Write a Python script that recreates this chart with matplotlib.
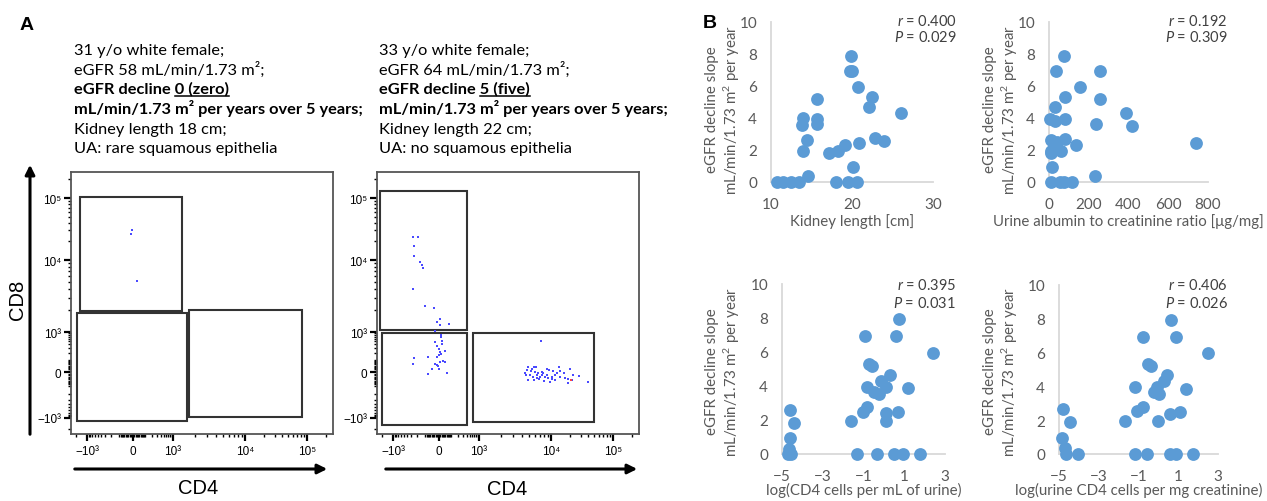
import numpy as np
import matplotlib
matplotlib.use("Agg")
import matplotlib.pyplot as plt
from matplotlib.patches import Rectangle, FancyArrowPatch
from matplotlib.lines import Line2D

W, H = 1267, 502

plt.rcParams['font.family'] = ['Lato', 'DejaVu Sans']
plt.rcParams['mathtext.fontset'] = 'custom'
plt.rcParams['mathtext.rm'] = 'Lato'
plt.rcParams['mathtext.it'] = 'Lato:italic'

# ---------------- panel A: patient notes ----------------
notes_left = ["31 y/o white female;",
              "eGFR 58 mL/min/1.73 m²;",
              "eGFR decline 0 (zero)",
              "mL/min/1.73 m² per years over 5 years;",
              "Kidney length 18 cm;",
              "UA: rare squamous epithelia"]
notes_right = ["33 y/o white female;",
               "eGFR 64 mL/min/1.73 m²;",
               "eGFR decline 5 (five)",
               "mL/min/1.73 m² per years over 5 years;",
               "Kidney length 22 cm;",
               "UA: no squamous epithelia"]
bold_rows = [2, 3]
underline_left = "0 (zero)"
underline_right = "5 (five)"

# ---------------- panel A: flow events (CD4, CD8) ----------------
p1_cd4 = [-5, -10, 30]
p1_cd8 = [30400, 26000, 5100]

p2_cd4 = [-269, -187, -245, -240, -159, -130, -127, -260, -105, -33,
          5, -10, 5, 80, -28, 13, 15, 20, -26, 22,
          -11, -2, 45, 8, 15, 0, -15, -75, -245, -260,
          28, 5, 45, -26, -5, -15, -50, 66, -80, 2,
          7280, 4850, 5400, 5800, 6200, 4600, 5240, 6000, 6700, 7420,
          7700, 8700, 9430, 10900, 13600, 13900, 16200, 20200, 4500, 5130,
          5670, 6470, 7060, 8280, 9150, 10300, 11600, 13900, 16800, 19000,
          23000, 28700, 4850, 5800, 6900, 8050, 9620, 11600, 18600, 21600,
          39000, 8700, 12300, 4370, 6320, 7420, 10200]
p2_cd8 = [23400, 23400, 16700, 11700, 9500, 8600, 7700, 3950, 2280, 2140,
          1530, 1370, 1250, 1300, 1040, 820, 670, 520, 480, 400,
          355, 275, 237, 220, 180, 158, 142, 142, 130, 64,
          96, 85, 85, 64, 49, 55, 23, -7, -13, 23,
          520, 37, 24, 37, 39, 17, 5, 0, -7, 0,
          -7, 21, 17, 5, 37, 5, -7, 21, -23, -18,
          -30, -23, -36, -30, -42, -30, -18, -30, -42, -47,
          -18, -25, -54, -54, -49, -62, -68, -54, -82, -56,
          -73, -18, -7, -7, -42, -18, -47]
p2_red_cd4 = [21000]
p2_red_cd8 = [-54]

# gates: (cd4 low, cd4 high, cd8 low, cd8 high)
gates_p1 = [(-1560, 1340, 1960, 103000),
            (-1880, 1570, -1210, 1850),
            (1670, 82500, -940, 2020)]
gates_p2 = [(-2260, 400, 1070, 129000),
            (-2000, 400, -1560, 930),
            (640, 49100, -1290, 930)]

flow_ticks = [-1e3, 0, 1e3, 1e4, 1e5]
flow_ticklabels = ['−10³', '0', '10³', '10⁴', '10⁵']
flow_minor = ([-2000] + list(range(-900, 0, 100)) + list(range(-90, 0, 10))
              + list(range(10, 100, 10)) + list(range(100, 1000, 100))
              + list(range(2000, 10000, 1000)) + list(range(20000, 100000, 10000))
              + [200000])

# ---------------- panel B: clinical correlations ----------------
kidney_len = [10.8, 11.5, 12.5, 13.4, 13.9, 13.8, 13.9, 14.5, 14.6, 15.7,
              15.7, 15.7, 17.2, 18.3, 18.0, 19.1, 19.5, 19.9, 19.7, 20.0,
              20.1, 20.6, 20.7, 20.9, 22.1, 22.5, 22.9, 23.9, 26.0]
slope_kl = [0, 0, 0, 0, 4.0, 3.55, 1.93, 2.6, 0.37, 5.2,
            3.95, 3.65, 1.83, 1.93, 0, 2.34, 0, 7.9, 6.95, 6.95,
            0.93, 0, 5.95, 2.43, 4.67, 5.3, 2.74, 2.55, 4.32]

uacr = [8, 56, 76, 117, 233, 14, 8, 10, 61, 10,
        39, 81, 134, 5, 30, 81, 238, 389, 416, 29,
        81, 257, 157, 36, 255, 73, 741]
slope_ua = [0, 0, 0, 0, 0.35, 0.93, 1.83, 1.93, 1.93, 2.6,
            2.5, 2.7, 2.34, 3.95, 3.84, 3.95, 3.63, 4.32, 3.53, 4.67,
            5.3, 5.2, 5.95, 6.95, 6.95, 7.9, 2.43]

cd4_ml = [-4.69, -4.56, -4.64, -4.59, -4.40, -4.59, -1.31, -0.33, 0.51, 0.92,
          1.75, -1.63, -1.02, -0.85, -0.82, -0.5, -0.25, 0.12, -0.14, 0.28,
          -0.74, -0.58, -0.93, 0.61, 0.72, 2.43, 1.18, 0.12, 0.12, 0.69]
slope_c4 = [0, 0, 0.29, 0.92, 1.82, 2.6, 0, 0, 0, 0,
            0, 1.92, 2.5, 2.74, 3.92, 3.67, 3.53, 3.92, 4.31, 4.67,
            5.29, 5.2, 6.92, 6.92, 7.94, 5.92, 3.86, 2.41, 1.92, 2.45]

cd4_cr = [-4.87, -4.70, -4.65, -4.03, -4.82, -4.45, -1.2, -0.58, 0.6, 0.9,
          1.72, -1.67, -1.08, -0.75, -1.2, -0.21, 0.01, -0.08, 0.26, 0.43,
          -0.53, -0.36, -0.78, 0.9, 0.65, 2.5, 1.39, 0.56, -0.04, 1.1]
slope_c4cr = [0.95, 0.34, 0, 0, 2.66, 1.87, 0, 0, 0, 0,
              0, 1.97, 2.56, 2.8, 3.98, 3.65, 3.55, 3.94, 4.34, 4.67,
              5.33, 5.19, 6.9, 6.9, 7.93, 5.96, 3.85, 2.37, 1.97, 2.47]

stats = [("0.400", "0.029"), ("0.192", "0.309"), ("0.395", "0.031"), ("0.406", "0.026")]
xlabels = ["Kidney length [cm]", "Urine albumin to creatinine ratio [μg/mg]",
           "log(CD4 cells per mL of urine)", "log(urine CD4 cells per mg creatinine)"]
ylabel_lines = ["eGFR decline slope", "mL/min/1.73 m$^2$ per year"]


def box(l, t, r, b):
    return [l / W, 1 - b / H, (r - l) / W, (b - t) / H]


# biexponential-like display scale (axis runs 0..262 px)
_u = np.arcsinh(np.array(flow_ticks) / 100.0)
U = np.concatenate([[-12.0], _u, [12.0]])
P = np.array([16 - (12 + _u[0]) * 16, 16, 62, 102, 174, 236, 236 + (12 - _u[-1]) * 27])


def fwd(v):
    return np.interp(np.arcsinh(np.asarray(v, dtype=float) / 100.0), U, P)


def inv(p):
    return 100.0 * np.sinh(np.interp(np.asarray(p, dtype=float), P, U))


fig = plt.figure(figsize=(W / 100, H / 100), dpi=100)

# ---- notes text ----
baselines = [55, 74.5, 94, 114, 134, 153]
note_size = 11.8
texts = {}
for x0, notes in [(74, notes_left), (379, notes_right)]:
    for i, line in enumerate(notes):
        t = fig.text(x0 / W, 1 - baselines[i] / H, line, fontsize=note_size,
                     fontweight='bold' if i in bold_rows else 'normal',
                     va='baseline', ha='left', color='black')
        texts[(x0, i)] = t

fig.text(27 / W, 1 - 25 / H, 'A', fontsize=14, fontweight='bold',
         family='Liberation Sans', ha='center', va='center')
fig.text(710 / W, 1 - 23 / H, 'B', fontsize=14, fontweight='bold',
         family='Liberation Sans', ha='center', va='center')

# ---- flow plots ----
flow_boxes = [box(71, 173, 333, 435), box(377, 173, 639, 435)]
flow_data = [(p1_cd4, p1_cd8, gates_p1), (p2_cd4, p2_cd8, gates_p2)]
flow_axes = []
for rect, (cx, cy, gates) in zip(flow_boxes, flow_data):
    ax = fig.add_axes(rect)
    ax.set_xscale('function', functions=(fwd, inv))
    ax.set_yscale('function', functions=(fwd, inv))
    lo, hi = float(inv(0)), float(inv(262))
    ax.set_xlim(lo, hi)
    ax.set_ylim(lo, hi)
    for g in gates:
        ax.add_patch(Rectangle((g[0], g[2]), g[1] - g[0], g[3] - g[2], fill=False,
                               edgecolor='#333333', lw=1.5, zorder=2))
    ax.scatter(cx, cy, s=2.0, marker='s', color='#4a4aff', linewidths=0, zorder=3)
    for s in ax.spines.values():
        s.set_color('#555555')
        s.set_linewidth(1.3)
    ax.set_xticks(flow_ticks)
    ax.set_yticks(flow_ticks)
    ax.set_xticks(flow_minor, minor=True)
    ax.set_yticks(flow_minor, minor=True)
    ax.set_xticklabels(flow_ticklabels, fontsize=8.5, family=['Liberation Sans', 'DejaVu Sans'])
    ax.set_yticklabels(flow_ticklabels, fontsize=8.5, family=['Liberation Sans', 'DejaVu Sans'])
    ax.tick_params(which='major', length=5, width=1.6, direction='out', pad=2, colors='black')
    ax.tick_params(axis='x', which='major', pad=3)
    ax.tick_params(which='minor', length=2.5, width=1.0, direction='out')
    flow_axes.append(ax)

flow_axes[1].scatter(p2_red_cd4, p2_red_cd8, s=2.0, marker='s', color='#ff4040',
                     linewidths=0, zorder=3)

# axis arrows and labels
for (x0, y0), (x1, y1) in [((30, 438), (30, 163)), ((72, 470), (330, 470)),
                           ((383, 470), (640, 470))]:
    arr = FancyArrowPatch((x0 / W, 1 - y0 / H), (x1 / W, 1 - y1 / H),
                          transform=fig.transFigure, arrowstyle='-|>',
                          mutation_scale=14, lw=2.2, color='black')
    fig.add_artist(arr)

fig.text(17 / W, 1 - 300 / H, 'CD8', rotation=90, fontsize=14.5,
         family='Liberation Sans', ha='center', va='center')
fig.text(198 / W, 1 - 489 / H, 'CD4', fontsize=14.5, family='Liberation Sans',
         ha='center', va='center')
fig.text(507 / W, 1 - 490 / H, 'CD4', fontsize=14.5, family='Liberation Sans',
         ha='center', va='center')

# ---- panel B scatter plots ----
b_boxes = [box(771, 23, 933, 183), box(1049, 23, 1208, 183),
           box(782, 285, 945, 455), box(1059, 286, 1218, 455)]
b_data = [(kidney_len, slope_kl, (10, 30), [10, 20, 30]),
          (uacr, slope_ua, (0, 800), [0, 200, 400, 600, 800]),
          (cd4_ml, slope_c4, (-5, 3), [-5, -3, -1, 1, 3]),
          (cd4_cr, slope_c4cr, (-5, 3), [-5, -3, -1, 1, 3])]
stat_pos = [(957, 22, 38), (1228, 22, 38), (956, 285, 303), (1228, 286, 303)]
ylab_x = [(712, 732), (990, 1010), (712, 732), (990, 1010)]
ylab_y = [110, 110, 372, 372]
xlab_pad = [1, 1, -1, -1]
gray = '#595959'

for k, (rect, (xs, ys, xlim, xt)) in enumerate(zip(b_boxes, b_data)):
    ax = fig.add_axes(rect)
    ax.scatter(xs, ys, s=85, color='#5b9bd5', linewidths=0, clip_on=False, zorder=3)
    ax.set_xlim(*xlim)
    ax.set_ylim(0, 10)
    ax.set_xticks(xt)
    ax.set_yticks(range(0, 11, 2))
    for s in ['top', 'right']:
        ax.spines[s].set_visible(False)
    for s in ['left', 'bottom']:
        ax.spines[s].set_color('#d9d9d9')
        ax.spines[s].set_linewidth(1.3)
    ax.tick_params(length=0, labelsize=11, labelcolor=gray)
    ax.tick_params(axis='x', pad=11)
    ax.tick_params(axis='y', pad=10)
    ax.set_xlabel(xlabels[k], fontsize=10.8, color=gray, labelpad=xlab_pad[k])
    for xl, line in zip(ylab_x[k], ylabel_lines):
        fig.text(xl / W, 1 - ylab_y[k] / H, line, rotation=90, fontsize=10.8,
                 color=gray, ha='center', va='center')
    xr, yr1, yr2 = stat_pos[k]
    fig.text(xr / W, 1 - yr1 / H, "$r$ = " + stats[k][0],
             ha='right', va='center', fontsize=10.5, color='#404040')
    fig.text(xr / W, 1 - yr2 / H, "$P$ = " + stats[k][1],
             ha='right', va='center', fontsize=10.5, color='#404040')

# ---- underline the decline values ----
fig.canvas.draw()
rend = fig.canvas.get_renderer()
for x0, word in [(74, underline_left), (379, underline_right)]:
    t = texts[(x0, 2)]
    full = t.get_window_extent(rend)
    tmp = fig.text(0, 0, word, fontsize=note_size, fontweight='bold')
    wpx = tmp.get_window_extent(rend).width
    tmp.remove()
    yb = H - baselines[2] - 2.5
    fig.add_artist(Line2D([(full.x1 - wpx) / W, full.x1 / W], [yb / H, yb / H],
                          transform=fig.transFigure, color='black', lw=1.1))

fig.savefig('out.png', dpi=100)
